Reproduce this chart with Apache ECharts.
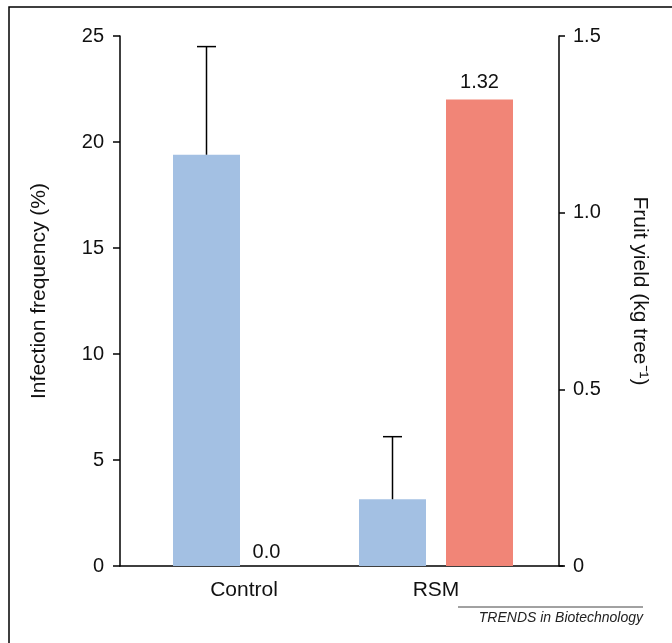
<!DOCTYPE html>
<html>
<head>
<meta charset="utf-8">
<script src="https://cdn.jsdelivr.net/npm/echarts@6/dist/echarts.min.js"></script>
<style>
html,body{margin:0;padding:0;background:#fff;}
#c{width:672px;height:643px;}
</style>
</head>
<body>
<div id="c"></div>
<script>
const categories = ['Control', 'RSM'];
const infection = [19.4, 3.15];
const infectionErrTop = [24.5, 6.1];
const fruitYield = [0.0, 1.32];
const leftTicks = [0, 5, 10, 15, 20, 25];
const rightTicks = [0, 0.5, 1.0, 1.5];

const FONT = 'Liberation Sans, Arial, sans-serif';
const BAR_W = 67;
const BAR_GAP = 20;
const blue = '#A3C0E3';
const red = '#F18577';

const chart = echarts.init(document.getElementById('c'));
chart.setOption({
  animation: false,
  grid: [
    {left: 157, right: 143, top: 36, bottom: 77},
    {left: 120, right: 109, top: 36, bottom: 77}
  ],
  xAxis: [
    {
      type: 'category', gridIndex: 0,
      data: categories.map((c, i) => i === 0 ? {value: c, textStyle: {padding: [0, 12, 0, 0]}} : c),
      axisLine: {show: false}, axisTick: {show: false},
      axisLabel: {color: '#111', fontFamily: FONT, fontSize: 21, margin: 14}
    },
    {
      type: 'value', gridIndex: 1, min: 0, max: 1,
      axisLine: {show: true, onZero: false, lineStyle: {color: '#000', width: 1.5}},
      axisTick: {show: false}, axisLabel: {show: false}, splitLine: {show: false}
    }
  ],
  yAxis: [
    {
      type: 'value', gridIndex: 0, position: 'left', offset: 37,
      min: leftTicks[0], max: leftTicks[leftTicks.length - 1], interval: 5,
      name: 'Infection frequency (%)', nameLocation: 'middle', nameGap: 70,
      nameTextStyle: {color: '#111', fontFamily: FONT, fontSize: 21, padding: [0, 0, 0, 20]},
      axisLine: {show: true, lineStyle: {color: '#000', width: 1.5}},
      axisTick: {show: true, length: 7, lineStyle: {color: '#000', width: 1.5}},
      axisLabel: {color: '#111', fontFamily: FONT, fontSize: 20, margin: 16},
      splitLine: {show: false}
    },
    {
      type: 'value', gridIndex: 0, position: 'right', offset: 30,
      min: rightTicks[0], max: rightTicks[rightTicks.length - 1], interval: 0.5,
      name: 'Fruit yield (kg tree\u207B\u00B9)', nameLocation: 'middle', nameGap: 70, nameRotate: -90,
      nameTextStyle: {color: '#111', fontFamily: FONT, fontSize: 21, padding: [0, 20, 0, 0]},
      axisLine: {show: true, lineStyle: {color: '#000', width: 1.5}},
      axisTick: {show: true, length: 6, lineStyle: {color: '#000', width: 1.5}},
      axisLabel: {color: '#111', fontFamily: FONT, fontSize: 20, margin: 14,
        formatter: v => v === 0 ? '0' : v.toFixed(1)},
      splitLine: {show: false}
    },
    {type: 'value', gridIndex: 1, show: false, min: 0, max: 1}
  ],
  series: [
    {
      name: 'Infection frequency', type: 'bar', xAxisIndex: 0, yAxisIndex: 0,
      data: infection, barWidth: BAR_W, barGap: (BAR_GAP / BAR_W * 100) + '%',
      itemStyle: {color: blue}, z: 2
    },
    {
      name: 'Fruit yield', type: 'bar', xAxisIndex: 0, yAxisIndex: 1,
      data: fruitYield.map((v, i) => ({
        value: v,
        label: i === 0 ? {offset: [-27, 3]} : {}
      })),
      barWidth: BAR_W,
      itemStyle: {color: red}, z: 2,
      label: {show: true, position: 'top', distance: 7, color: '#111', fontFamily: FONT, fontSize: 20,
        formatter: p => p.value === 0 ? '0.0' : p.value.toFixed(2)}
    },
    {
      name: 'Error', type: 'custom', xAxisIndex: 0, yAxisIndex: 0, z: 3,
      data: infection.map((v, i) => [i, v, infectionErrTop[i]]),
      renderItem: (params, api) => {
        const base = api.coord([api.value(0), api.value(1)]);
        const top = api.coord([api.value(0), api.value(2)]);
        const x = base[0] - (BAR_W + BAR_GAP) / 2;
        const cap = 9.5;
        const st = {stroke: '#000', lineWidth: 1.5};
        return {
          type: 'group',
          children: [
            {type: 'line', shape: {x1: x, y1: base[1], x2: x, y2: top[1]}, style: st},
            {type: 'line', shape: {x1: x - cap, y1: top[1], x2: x + cap, y2: top[1]}, style: st}
          ]
        };
      }
    }
  ],
  graphic: [
    {type: 'rect', shape: {x: 9, y: 7, width: 800, height: 800}, style: {fill: 'none', stroke: '#000', lineWidth: 1.5}, silent: true},
    {type: 'line', shape: {x1: 458, y1: 607, x2: 643, y2: 607}, style: {stroke: '#444', lineWidth: 1}},
    {type: 'text', right: 29, top: 611, style: {text: 'TRENDS in Biotechnology', font: 'italic 14px Liberation Sans, Arial, sans-serif', fill: '#222'}}
  ]
});
</script>
</body>
</html>
